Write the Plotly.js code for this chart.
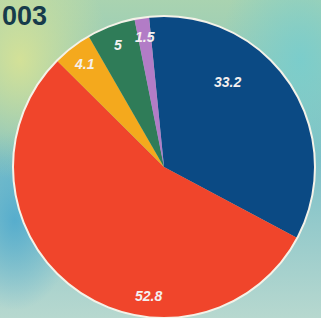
<!DOCTYPE html>
<html>
<head>
<meta charset="utf-8">
<script src="https://cdn.plot.ly/plotly-3.0.1.min.js"></script>
<style>
html,body{margin:0;padding:0;}
body{width:321px;height:318px;overflow:hidden;
background:
 radial-gradient(ellipse 90px 120px at 20px 60px, rgba(214,226,150,0.95), rgba(214,226,150,0) 100%),
 radial-gradient(ellipse 60px 90px at 15px 220px, rgba(80,170,205,0.9), rgba(80,170,205,0) 100%),
 radial-gradient(ellipse 80px 120px at 300px 60px, rgba(120,205,205,0.9), rgba(120,205,205,0) 100%),
 linear-gradient(180deg, #a9d3b0 0%, #7cc0c8 50%, #b7d8cf 100%);}
#chart{width:321px;height:318px;}
</style>
</head>
<body>
<div id="chart"></div>
<script>
var categories = ["A", "B", "C", "D", "E"];
var values = [33.2, 52.8, 4.1, 5, 1.5];
var valueLabels = ["33.2", "52.8", "4.1", "5", "1.5"];
var titleText = "003";

var colors = ["#0b4a84", "#f0452b", "#f4a91d", "#2f7c58", "#b27cc6"];
// label placement: fixed pixel spot for big slices, else radius fraction along slice bisector
var labelSpot = [[227, 82], [148, 296], null, null, null];
var labelRadius = [0.68, 0.86, 0.86, 0.86, 0.87];

var W = 321, H = 318;
var cx = 164, cy = 167, R = 151;
var rotation = -5.7;

var trace = {
  type: "pie",
  labels: categories,
  values: values,
  sort: false,
  direction: "clockwise",
  rotation: rotation,
  textinfo: "none",
  hoverinfo: "none",
  marker: {colors: colors, line: {width: 0}},
  domain: {x: [(cx - R) / W, (cx + R) / W], y: [(H - cy - R) / H, (H - cy + R) / H]},
  showlegend: false
};

var total = values.reduce(function (a, b) { return a + b; }, 0);
var cum = 0;
var annotations = valueLabels.map(function (t, i) {
  var mid = rotation + (cum + values[i] / 2) / total * 360;
  cum += values[i];
  var px, py;
  if (labelSpot[i]) { px = labelSpot[i][0]; py = labelSpot[i][1]; }
  else {
    var a = mid * Math.PI / 180;
    var r = labelRadius[i] * R;
    px = cx + r * Math.sin(a); py = cy - r * Math.cos(a);
  }
  return {
    text: "<b><i>" + t + "</i></b>",
    x: px / W, y: 1 - py / H,
    xref: "paper", yref: "paper", showarrow: false,
    xanchor: "center", yanchor: "middle",
    font: {family: "Liberation Sans, Arial, sans-serif", size: 14, color: "#f4f0f0"}
  };
});
annotations.push({
  text: "<b>" + titleText + "</b>",
  x: 0, y: 1 + 1 / H, xref: "paper", yref: "paper",
  xanchor: "left", yanchor: "top", showarrow: false,
  font: {family: "Liberation Sans, Arial, sans-serif", size: 27, color: "#173b4b"}
});

var layout = {
  width: W, height: H,
  margin: {l: 0, r: 0, t: 0, b: 0, pad: 0},
  paper_bgcolor: "rgba(0,0,0,0)",
  plot_bgcolor: "rgba(0,0,0,0)",
  annotations: annotations,
  shapes: [{
    type: "circle", xref: "paper", yref: "paper",
    x0: (cx - R) / W, x1: (cx + R) / W,
    y0: (H - cy - R) / H, y1: (H - cy + R) / H,
    line: {color: "#f4f2e8", width: 2}
  }]
};

Plotly.newPlot("chart", [trace], layout, {displayModeBar: false, staticPlot: true});
</script>
</body>
</html>
